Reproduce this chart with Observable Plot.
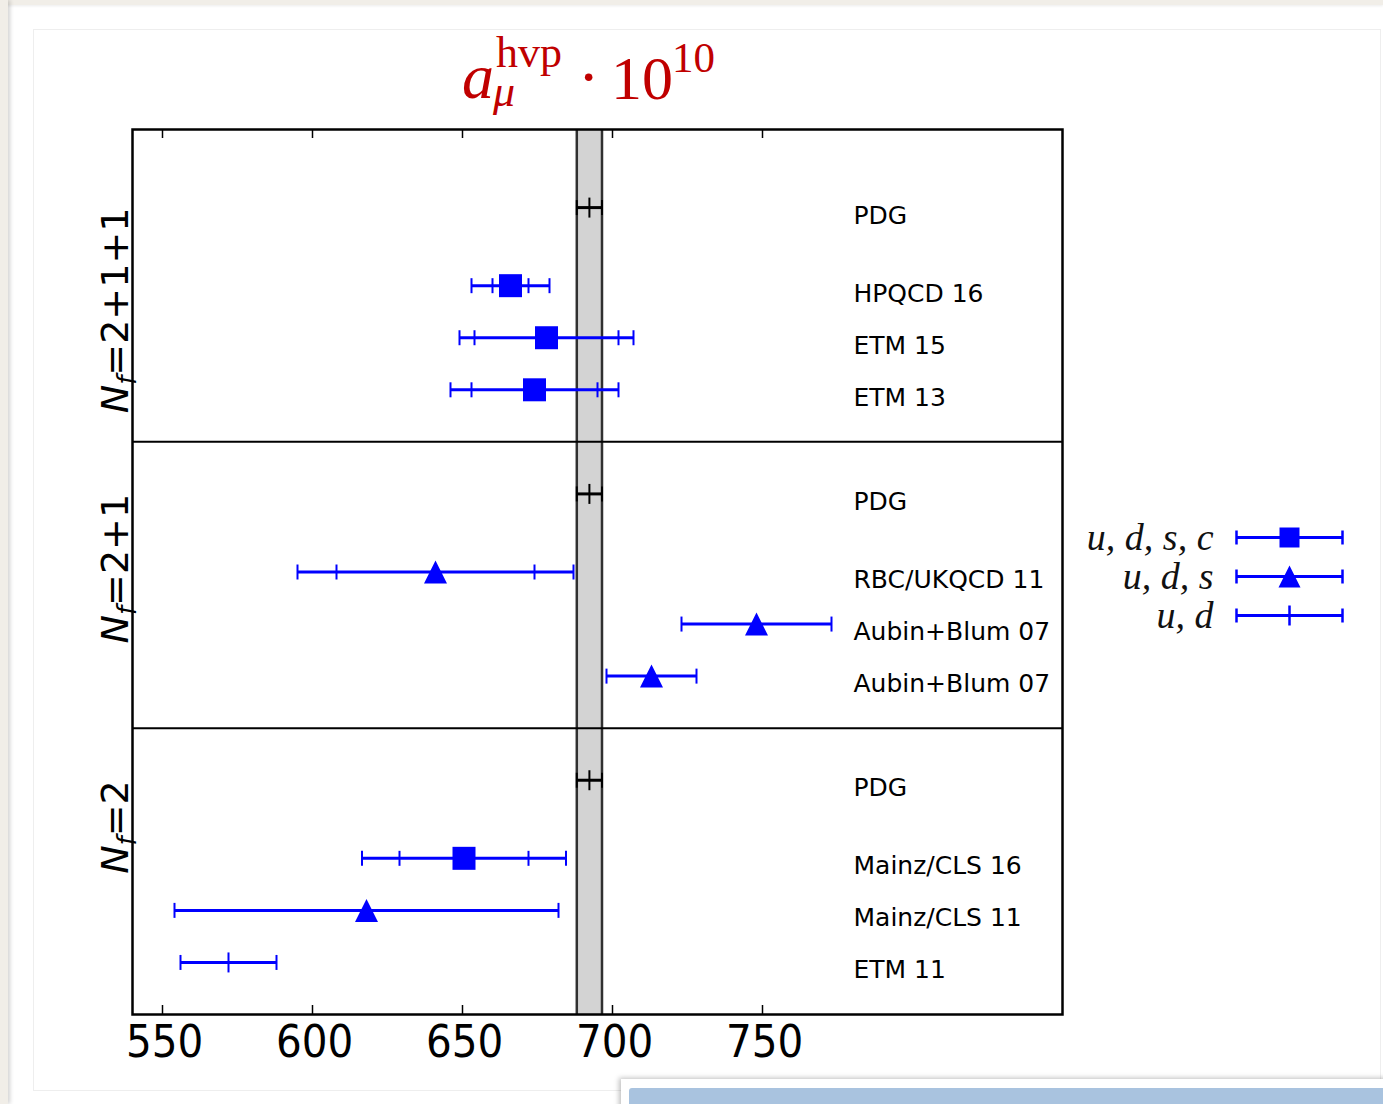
<!DOCTYPE html>
<html>
<head>
<meta charset="utf-8">
<script src="https://cdn.jsdelivr.net/npm/d3@7"></script>
<script src="https://cdn.jsdelivr.net/npm/@observablehq/plot@0.6"></script>
<style>
  html, body { margin: 0; padding: 0; background: #fff; }
  body { width: 1383px; height: 1104px; position: relative; overflow: hidden; font-family: "DejaVu Sans", sans-serif; }
  #edge-top { position: absolute; left: 0; top: 0; width: 1383px; height: 5px; background: #f1eee8; box-shadow: 0 1px 3px rgba(0,0,0,0.08); }
  #edge-left { position: absolute; left: 0; top: 0; width: 8px; height: 1104px; background: #f1eee8; box-shadow: 2px 0 4px rgba(0,0,0,0.18); }
  #sheet { position: absolute; left: 33px; top: 29px; width: 1346px; height: 1060px; border: 1px solid #eeeeee; }
  #card { position: absolute; left: 621px; top: 1079px; width: 780px; height: 40px; background: #fff; box-shadow: -2px -1px 5px rgba(0,0,0,0.25); }
  #card-fill { position: absolute; left: 629px; top: 1088px; width: 770px; height: 30px; background: #a9c3df; border-radius: 3px 0 0 0; }
  #chart { position: absolute; left: 0; top: 0; }
  #title { position: absolute; left: 440px; top: 20px; }
  #legend { position: absolute; left: 1060px; top: 506px; }
  #chart svg, #legend svg { overflow: visible; }
  #chart g[aria-label="x-axis tick label"] text { font-family: "DejaVu Sans Condensed", "DejaVu Sans", sans-serif; font-stretch: condensed; }
</style>
</head>
<body>
<div id="edge-top"></div>
<div id="edge-left"></div>
<div id="sheet"></div>
<div id="card"></div>
<div id="card-fill"></div>
<div id="chart"></div>
<svg id="title" width="300" height="110" font-family="'Liberation Serif', 'Times New Roman', serif" fill="#c00000">
  <text x="22" y="78" font-size="64" font-style="italic">a</text>
  <text x="56" y="47" font-size="44">hvp</text>
  <text x="53" y="86" font-size="44" font-style="italic">μ</text>
  <text x="138" y="78" font-size="64">·</text>
  <text x="171" y="79" font-size="62">10</text>
  <text x="232" y="52" font-size="43">10</text>
</svg>
<div id="legend"></div>
<script>
// Lattice determinations of the leading-order hadronic vacuum polarisation
// contribution to the muon g-2, grouped by number of sea flavours.
const panelNames = ["2+1+1", "2+1", "2"];
const rowPanel   = [0, 0, 0, 0, 1, 1, 1, 1, 2, 2, 2, 2];
const rowLabels  = ["PDG", "HPQCD 16", "ETM 15", "ETM 13",
                    "PDG", "RBC/UKQCD 11", "Aubin+Blum 07", "Aubin+Blum 07",
                    "PDG", "Mainz/CLS 16", "Mainz/CLS 11", "ETM 11"];
const rowFlavour = ["pdg", "udsc", "udsc", "udsc",
                    "pdg", "uds", "uds", "uds",
                    "pdg", "udsc", "uds", "ud"];
const rowValue    = [692.3, 666, 678, 674, 692.3, 641, 748, 713, 692.3, 650.5, 618, 572];
const rowStatErr  = [null, 6, 24, 21, null, 33, null, null, null, 21.5, null, null];
const rowTotalErr = [4.2, 13, 29, 28, 4.2, 46, 25, 15, 4.2, 34, 64, 16];
const pdgValue = 692.3;
const pdgError = 4.2;
const xTicks = [550, 600, 650, 700, 750];
const xDomain = [540, 850];
const legendKeys = ["udsc", "uds", "ud"];
const legendLabels = ["u, d, s, c", "u, d, s", "u, d"];

const BLUE = "#0000ff";

// Marker shapes: filled square, upward triangle and a short vertical bar.
const squareSym = {draw(ctx, size) { const r = Math.sqrt(size / Math.PI); ctx.rect(-r, -r, 2 * r, 2 * r); }};
const triangleSym = {draw(ctx, size) { const r = Math.sqrt(size / Math.PI); ctx.moveTo(0, -r); ctx.lineTo(r, r); ctx.lineTo(-r, r); ctx.closePath(); }};
const barSym = {draw(ctx, size) { const r = Math.sqrt(size / Math.PI); ctx.moveTo(0, -r); ctx.lineTo(0, r); }};

// Vertical layout: reference row first in each panel, a wider gap before the
// lattice results, then one unit between results.
let cursor = 0;
const rows = [];
const separators = [];
const panelAnchors = [];
panelNames.forEach((name, p) => {
  const idx = rowPanel.map((q, i) => (q === p ? i : -1)).filter((i) => i >= 0);
  idx.forEach((i, k) => {
    cursor += k === 0 ? (p === 0 ? 1.5 : 1) : k === 1 ? 1.5 : 1;
    rows.push({
      pos: cursor,
      label: rowLabels[i],
      flavour: rowFlavour[i],
      value: rowValue[i],
      stat: rowStatErr[i],
      total: rowTotalErr[i],
      color: rowFlavour[i] === "pdg" ? "#000000" : BLUE
    });
    if (k === 0) panelAnchors.push({pos: cursor, name});
  });
  cursor += 1;
  if (p < panelNames.length - 1) separators.push(cursor);
});

const caps = [];
for (const r of rows) {
  caps.push({pos: r.pos, x: r.value - r.total, color: r.color});
  caps.push({pos: r.pos, x: r.value + r.total, color: r.color});
  if (r.stat != null) {
    caps.push({pos: r.pos, x: r.value - r.stat, color: r.color});
    caps.push({pos: r.pos, x: r.value + r.stat, color: r.color});
  }
}
const band = [{lo: pdgValue - pdgError, hi: pdgValue + pdgError}];

const W = 1383, H = 1104, mT = 129, mB = 90, mL = 132, mR = 321;
const frameH = H - mT - mB;

const chart = Plot.plot({
  width: W,
  height: H,
  marginTop: mT,
  marginBottom: mB,
  marginLeft: mL,
  marginRight: mR,
  style: {background: "transparent", color: "#000"},
  x: {domain: xDomain},
  y: {domain: [0, cursor], reverse: true, axis: null},
  color: {type: "identity"},
  marks: [
    Plot.rect(band, {x1: "lo", x2: "hi", fill: "#d3d3d3"}),
    Plot.ruleX(band.flatMap((b) => [b.lo, b.hi]), {stroke: "#303030", strokeWidth: 2.5}),
    Plot.ruleY(separators, {stroke: "#000", strokeWidth: 2}),
    Plot.ruleY(rows, {y: "pos", x1: (d) => d.value - d.total, x2: (d) => d.value + d.total, stroke: "color", strokeWidth: 3}),
    Plot.dot(caps, {x: "x", y: "pos", symbol: barSym, r: 7.5, stroke: "color", strokeWidth: 2, fill: "none"}),
    Plot.dot(rows.filter((d) => d.flavour === "pdg" || d.flavour === "ud"),
      {x: "value", y: "pos", symbol: barSym, r: 10, stroke: "color", strokeWidth: 2, fill: "none"}),
    Plot.dot(rows.filter((d) => d.flavour === "udsc"),
      {x: "value", y: "pos", symbol: squareSym, r: 11.5, fill: BLUE, stroke: "none"}),
    Plot.dot(rows.filter((d) => d.flavour === "uds"),
      {x: "value", y: "pos", symbol: triangleSym, r: 11.5, fill: BLUE, stroke: "none"}),
    Plot.text(rows, {y: "pos", text: "label", frameAnchor: "right", textAnchor: "start", dx: -209, dy: 8,
      fontSize: 25, fill: "#000", fontFamily: "DejaVu Sans"}),
    Plot.text(panelAnchors, {y: "pos", text: (d) => "N=" + d.name, frameAnchor: "left", rotate: -90,
      textAnchor: "end", lineAnchor: "bottom", dx: -5, fontSize: 38, fill: "#000",
      fontFamily: "DejaVu Sans"}),
    Plot.tickX(xTicks, {insetTop: frameH - 9, stroke: "#000", strokeWidth: 1.5}),
    Plot.tickX(xTicks, {insetBottom: frameH - 9, stroke: "#000", strokeWidth: 1.5}),
    Plot.axisX(xTicks, {tickSize: 0, tickPadding: 11, dx: 2, fontSize: 45, label: null, fill: "#000"}),
    Plot.frame({stroke: "#000", strokeWidth: 2.5})
  ]
});

// N with italic subscript f on the panel labels.
d3.select(chart).selectAll("text")
  .filter(function () { return this.textContent.startsWith("N="); })
  .each(function () {
    const t = d3.select(this);
    const rest = this.textContent.slice(1);
    t.text(null);
    t.append("tspan").attr("font-style", "italic").text("N");
    t.append("tspan").attr("font-style", "italic").attr("font-size", "26").attr("dy", "8").text("f");
    t.append("tspan").attr("dy", "-8").text(rest);
  });

document.getElementById("chart").appendChild(chart);

// Flavour-content key.
const legend = Plot.plot({
  width: 323,
  height: 140,
  marginLeft: 176,
  marginRight: 41,
  marginTop: 31,
  marginBottom: 31,
  style: {background: "transparent"},
  x: {domain: [-1, 1], axis: null},
  y: {type: "point", domain: legendKeys, padding: 0, axis: null},
  marks: [
    Plot.ruleY(legendKeys, {y: (d) => d, x1: -1, x2: 1, stroke: BLUE, strokeWidth: 3}),
    Plot.dot(legendKeys, {x: -1, y: (d) => d, symbol: barSym, r: 7, stroke: BLUE, strokeWidth: 2.5, fill: "none"}),
    Plot.dot(legendKeys, {x: 1, y: (d) => d, symbol: barSym, r: 7, stroke: BLUE, strokeWidth: 2.5, fill: "none"}),
    Plot.dot(legendKeys.filter((d) => d === "udsc"), {x: 0, y: (d) => d, symbol: squareSym, r: 10, fill: BLUE}),
    Plot.dot(legendKeys.filter((d) => d === "uds"), {x: 0, y: (d) => d, symbol: triangleSym, r: 11, fill: BLUE}),
    Plot.dot(legendKeys.filter((d) => d === "ud"), {x: 0, y: (d) => d, symbol: barSym, r: 10, stroke: BLUE, strokeWidth: 2.5, fill: "none"}),
    Plot.text(legendKeys, {x: -1, y: (d) => d, text: (d, i) => legendLabels[i], textAnchor: "end", dx: -23,
      fontSize: 38, fontFamily: "Liberation Serif", fontStyle: "italic", fill: "#111"})
  ]
});
document.getElementById("legend").appendChild(legend);
</script>
</body>
</html>
